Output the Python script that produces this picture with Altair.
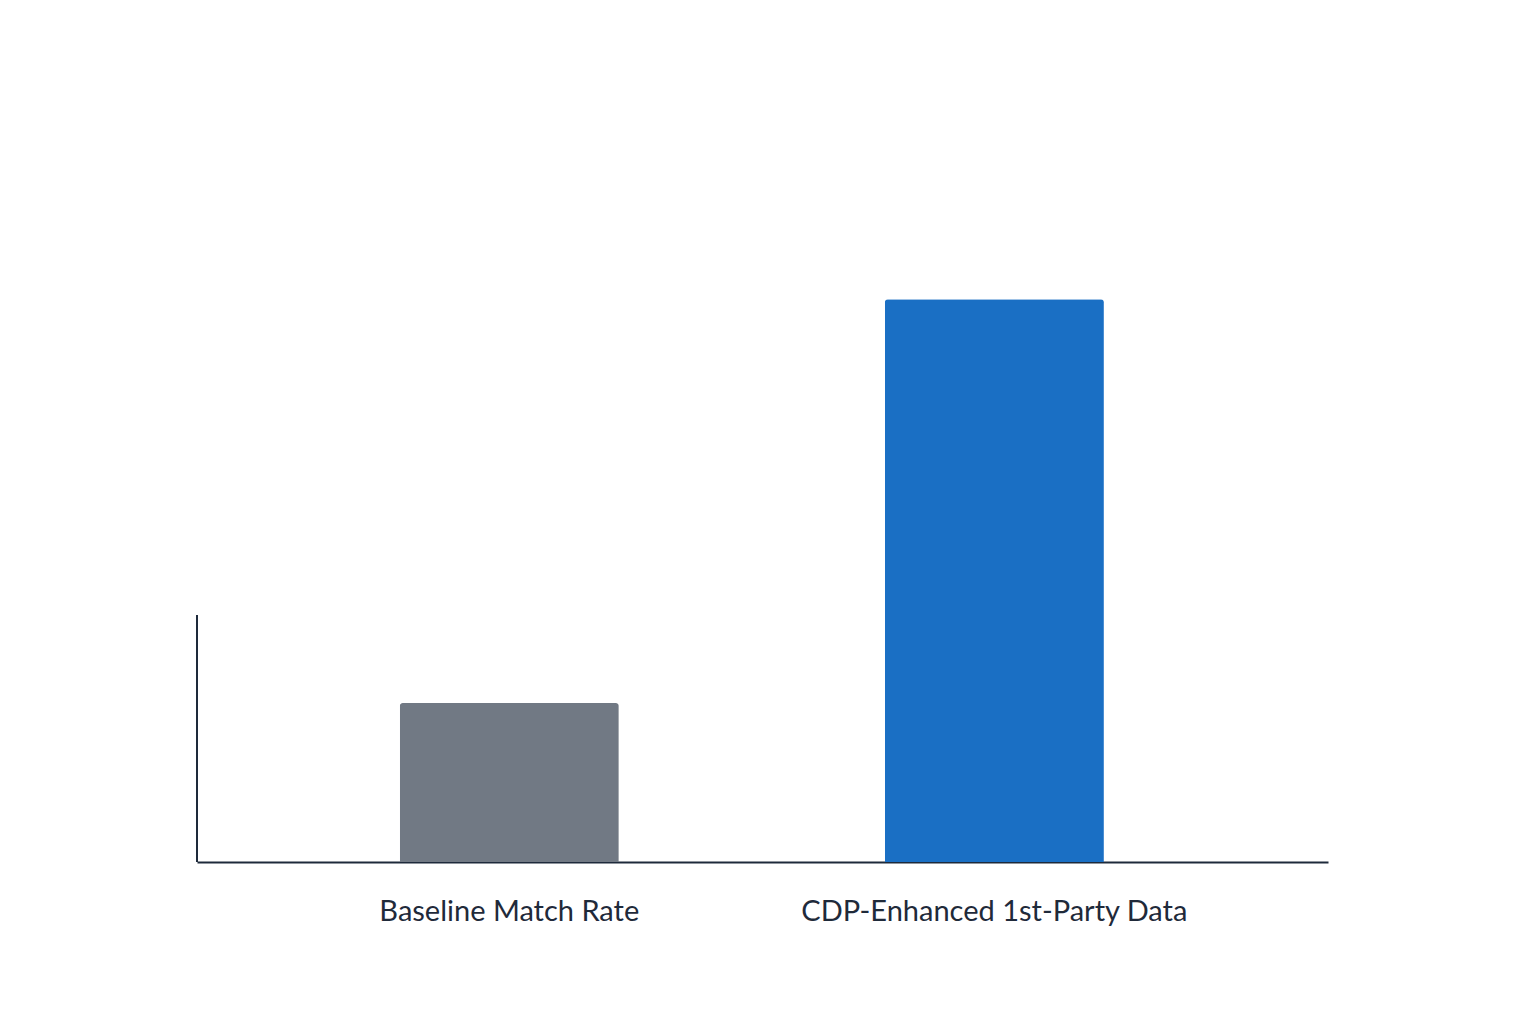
import pandas as pd
import altair as alt

# valores (sem rótulos no eixo y, escala arbitrária 0-100)
categorias = ["Baseline Match Rate", "CDP-Enhanced 1st-Party Data"]
valores = [24, 85]
cores = ["#717984", "#1a6fc4"]
eixo_y = [0, 37.3]  # trecho visível da linha do eixo y

df = pd.DataFrame({"categoria": categorias, "valor": valores, "cor": cores})
df_eixo = pd.DataFrame({"y0": [eixo_y[0]], "y1": [eixo_y[1]]})

escala_y = alt.Scale(domain=[0, 100], nice=False)

barras = (
    alt.Chart(df)
    .mark_bar(cornerRadiusTopLeft=3, cornerRadiusTopRight=3)
    .encode(
        x=alt.X(
            "categoria:N",
            sort=categorias,
            title=None,
            scale=alt.Scale(paddingInner=0.5485, paddingOuter=0.44, align=0.475),
            axis=alt.Axis(
                labelAngle=0,
                ticks=False,
                labelPadding=35,
                labelFontSize=29,
                labelFont="Lato",
                labelColor="#1f2a3a",
                domainColor="#1e2a3b",
                domainWidth=2,
                labelLimit=600,
            ),
        ),
        y=alt.Y("valor:Q", scale=escala_y, axis=None),
        color=alt.Color("cor:N", scale=None),
    )
)

linha_y = (
    alt.Chart(df_eixo)
    .mark_rule(color="#1e2a3b", strokeWidth=2)
    .encode(
        x=alt.value(0),
        y=alt.Y("y0:Q", scale=escala_y, axis=None),
        y2="y1:Q",
    )
)

grafico = (
    alt.layer(barras, linha_y)
    .properties(
        width=1131,
        height=662,
        padding={"left": 188, "top": 192, "right": 100, "bottom": 60},
        background="#ffffff",
    )
    .configure_view(strokeWidth=0)
)

grafico.save("out.html", embed_options={"renderer": "svg", "actions": False})
